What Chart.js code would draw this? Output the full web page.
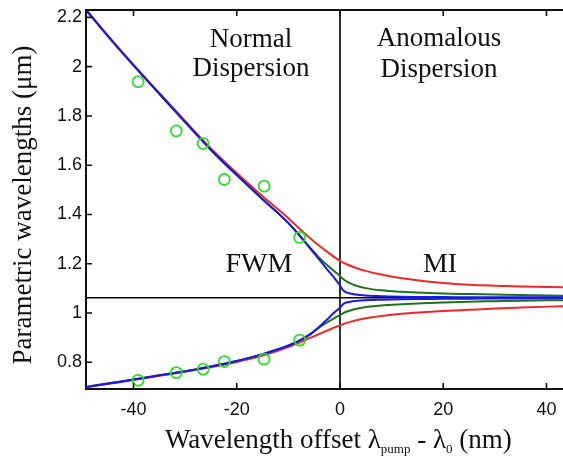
<!DOCTYPE html>
<html>
<head>
<meta charset="utf-8">
<script src="https://cdn.jsdelivr.net/npm/chart.js@4.4.0/dist/chart.umd.min.js"></script>
<style>
html, body { margin: 0; padding: 0; background: #fff; }
#wrap { width: 563px; height: 463px; }
</style>
</head>
<body>
<div id="wrap"><canvas id="dispChart" width="563" height="463"></canvas></div>
<script>
// ===== values =====
const offsets = [-49.2, -45, -40, -35, -30, -25, -20, -15, -10, -8, -6, -4, -2, -1, 0, 0.5, 1, 2, 3, 5, 8, 12, 16, 20, 25, 30, 35, 43.2];

// upper branch (idler / signal > pump)
const blueUpper  = [2.23, 2.125, 2.005, 1.89, 1.775, 1.662, 1.56, 1.462, 1.365, 1.318, 1.268, 1.217, 1.165, 1.14, 1.112, 1.095, 1.086, 1.079, 1.075, 1.071, 1.068, 1.066, 1.065, 1.065, 1.064, 1.064, 1.064, 1.064];
const greenUpper = [2.23, 2.125, 2.005, 1.89, 1.775, 1.662, 1.56, 1.462, 1.366, 1.32, 1.27, 1.224, 1.186, 1.168, 1.15, 1.14, 1.132, 1.12, 1.112, 1.101, 1.092, 1.086, 1.082, 1.079, 1.077, 1.075, 1.073, 1.07];
const redUpper   = [2.232, 2.127, 2.008, 1.893, 1.78, 1.668, 1.568, 1.474, 1.385, 1.345, 1.308, 1.273, 1.241, 1.226, 1.212, 1.206, 1.201, 1.192, 1.184, 1.171, 1.156, 1.141, 1.13, 1.122, 1.115, 1.111, 1.108, 1.105];

// lower branch
const blueLower  = [0.70, 0.714, 0.73, 0.747, 0.764, 0.783, 0.805, 0.833, 0.868, 0.887, 0.911, 0.944, 0.984, 1.004, 1.022, 1.034, 1.041, 1.046, 1.049, 1.052, 1.054, 1.056, 1.057, 1.058, 1.058, 1.059, 1.059, 1.06];
const greenLower = [0.70, 0.714, 0.73, 0.747, 0.764, 0.783, 0.805, 0.833, 0.867, 0.886, 0.909, 0.942, 0.968, 0.98, 0.992, 0.998, 1.003, 1.01, 1.016, 1.024, 1.031, 1.036, 1.04, 1.043, 1.046, 1.048, 1.05, 1.052];
const redLower   = [0.698, 0.712, 0.728, 0.745, 0.762, 0.78, 0.801, 0.827, 0.862, 0.879, 0.897, 0.915, 0.933, 0.942, 0.95, 0.954, 0.958, 0.964, 0.97, 0.979, 0.988, 0.997, 1.003, 1.008, 1.013, 1.018, 1.022, 1.028];

// measured points (green circles)
const measOffsets = [-39.1, -31.7, -26.5, -22.4, -14.7, -7.8];
const measUpper   = [1.939, 1.739, 1.688, 1.542, 1.515, 1.307];
const measLower   = [0.727, 0.758, 0.772, 0.803, 0.8125, 0.89];

const xTicks = [-40, -20, 0, 20, 40];
const yTicks = [0.8, 1, 1.2, 1.4, 1.6, 1.8, 2, 2.2];
const yTickLabels = ['0.8', '1', '1.2', '1.4', '1.6', '1.8', '2', '2.2'];
const pumpWavelength = 1.062;

const pts = (xs, ys) => xs.map((x, i) => ({ x: x, y: ys[i] }));

const RED = 'rgb(240,40,40)';
const GREEN = 'rgb(30,115,30)';
const BLUE = 'rgb(25,25,225)';
const CIRCLE = 'rgb(40,225,40)';
const SERIF = '"Liberation Serif", "Times New Roman", serif';

function curve(data, color, order) {
    return {
        data: data,
        borderColor: color,
        borderWidth: 2,
        pointRadius: 0,
        fill: false,
        cubicInterpolationMode: 'monotone',
        order: order
    };
}

// frame, reference lines, inward ticks and the annotations
const decor = {
    id: 'decor',
    beforeDatasetsDraw(chart) {
        const { ctx, chartArea: a, scales: { x, y } } = chart;
        ctx.save();
        ctx.strokeStyle = '#000';
        ctx.lineWidth = 1.6;
        const x0 = x.getPixelForValue(0);
        const yp = y.getPixelForValue(pumpWavelength);
        ctx.beginPath();
        ctx.moveTo(x0, a.top); ctx.lineTo(x0, a.bottom);
        ctx.moveTo(a.left, yp); ctx.lineTo(a.right, yp);
        ctx.stroke();
        ctx.restore();
    },
    afterDraw(chart) {
        const { ctx, chartArea: a, scales: { x, y } } = chart;
        ctx.save();
        ctx.strokeStyle = '#111';
        ctx.lineWidth = 2;
        ctx.beginPath();
        ctx.moveTo(a.left - 1, a.top); ctx.lineTo(a.right, a.top);
        ctx.stroke();

        ctx.lineWidth = 1.6;
        ctx.beginPath();
        x.ticks.forEach(t => {
            const px = x.getPixelForValue(t.value);
            ctx.moveTo(px, a.bottom); ctx.lineTo(px, a.bottom - 6);
            ctx.moveTo(px, a.top); ctx.lineTo(px, a.top + 6);
        });
        y.ticks.forEach(t => {
            const py = y.getPixelForValue(t.value);
            ctx.moveTo(a.left, py); ctx.lineTo(a.left + 6, py);
        });
        ctx.stroke();

        // region labels
        ctx.fillStyle = '#111';
        ctx.textAlign = 'center';
        ctx.textBaseline = 'alphabetic';
        ctx.font = '27px ' + SERIF;
        ctx.fillText('Normal', 251, 47);
        ctx.fillText('Dispersion', 251, 76);
        ctx.fillText('Anomalous', 439, 46);
        ctx.fillText('Dispersion', 439, 77);
        ctx.font = '28px ' + SERIF;
        ctx.fillText('FWM', 259, 272);
        ctx.fillText('MI', 440, 272);

        // y title
        ctx.save();
        ctx.translate(24, 205);
        ctx.rotate(-Math.PI / 2);
        ctx.textBaseline = 'middle';
        ctx.font = '27px ' + SERIF;
        ctx.fillText('Parametric wavelengths (\u03bcm)', 0, 0);
        ctx.restore();

        // x title with subscripts
        const big = '27px ' + SERIF, small = '13px ' + SERIF;
        const parts = [
            ['Wavelength offset \u03bb', big, 0],
            ['pump', small, 5],
            [' - \u03bb', big, 0],
            ['0', small, 5],
            [' (nm)', big, 0]
        ];
        ctx.textAlign = 'left';
        let cx = 165;
        parts.forEach(([txt, f, dy]) => {
            ctx.font = f;
            ctx.fillText(txt, cx, 448 + dy);
            cx += ctx.measureText(txt).width;
        });
        ctx.restore();
    }
};

const ctx1 = document.getElementById('dispChart');
new Chart(ctx1, {
    type: 'line',
    data: {
        datasets: [
            {
                data: pts(measOffsets, measUpper).concat(pts(measOffsets, measLower)),
                showLine: false,
                pointRadius: 5.5,
                pointBorderWidth: 1.8,
                pointBorderColor: CIRCLE,
                pointBackgroundColor: 'rgba(0,0,0,0)',
                order: 0
            },
            curve(pts(offsets, blueUpper), BLUE, 1),
            curve(pts(offsets, blueLower), BLUE, 1),
            curve(pts(offsets, greenUpper), GREEN, 2),
            curve(pts(offsets, greenLower), GREEN, 2),
            curve(pts(offsets, redUpper), RED, 3),
            curve(pts(offsets, redLower), RED, 3)
        ]
    },
    options: {
        responsive: false,
        animation: false,
        layout: { autoPadding: false, padding: { top: 10, right: 0, left: 0, bottom: 0 } },
        plugins: { legend: { display: false }, tooltip: { enabled: false } },
        scales: {
            x: {
                type: 'linear',
                min: -49.2,
                max: 43.2,
                afterBuildTicks: s => { s.ticks = xTicks.map(v => ({ value: v })); },
                afterFit: s => { s.height = 74; s.paddingLeft = 0; s.paddingRight = 0; },
                grid: { display: false, drawTicks: false },
                border: { display: true, color: '#111', width: 2 },
                ticks: {
                    padding: 10,
                    color: '#111',
                    font: { family: '"Liberation Sans", Arial, sans-serif', size: 18 },
                    callback: v => String(v)
                }
            },
            y: {
                type: 'linear',
                min: 0.6916,
                max: 2.23,
                afterBuildTicks: s => { s.ticks = yTicks.map(v => ({ value: v })); },
                afterFit: s => { s.width = 86; s.paddingTop = 0; s.paddingBottom = 0; },
                grid: { display: false, drawTicks: false },
                border: { display: true, color: '#111', width: 2 },
                ticks: {
                    padding: 4,
                    color: '#111',
                    font: { family: '"Liberation Sans", Arial, sans-serif', size: 18 },
                    callback: v => yTickLabels[yTicks.indexOf(v)] ?? ''
                }
            }
        }
    },
    plugins: [decor]
});
</script>
</body>
</html>
